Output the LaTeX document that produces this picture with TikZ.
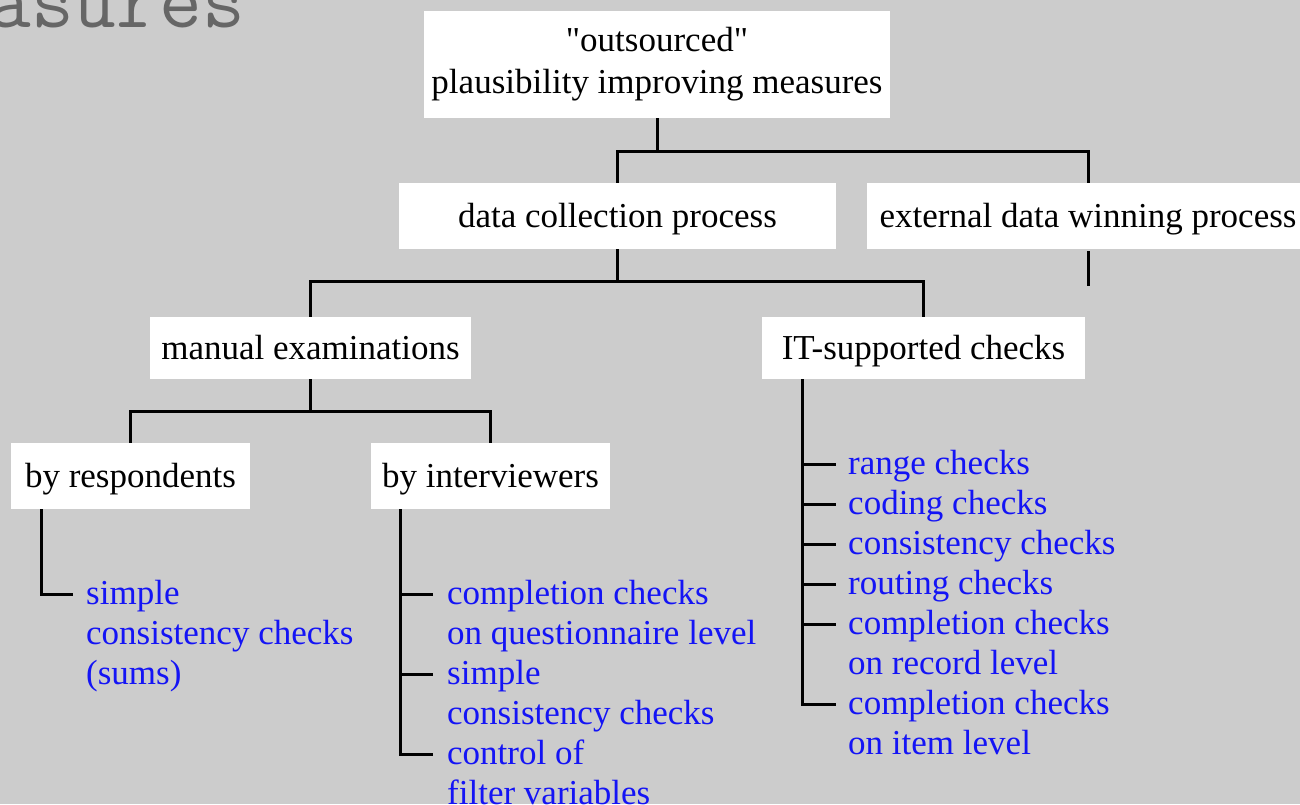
\documentclass[tikz,border=0pt]{standalone}
\usepackage{fontspec}
\setmainfont{Liberation Serif}[Ligatures=TeXOff]
\usetikzlibrary{calc}
\definecolor{bggray}{RGB}{204,204,204}
\definecolor{titlegray}{RGB}{102,102,102}
\definecolor{itemblue}{RGB}{20,20,245}
\newcommand\boxfont{\fontsize{35}{42}\selectfont}
\newcommand\itemfont{\fontsize{35}{40}\selectfont}
\tikzset{
  box/.style={fill=white, inner sep=0pt, text height=22pt, text depth=0pt, font=\boxfont},
  item/.style={anchor=north west, inner sep=0pt, align=left, text=itemblue, font=\itemfont},
  conn/.style={line width=3pt, black},
}
\begin{document}
\begin{tikzpicture}[x=1pt,y=-1pt]
\fill[bggray] (0,0) rectangle (1300,804);
\useasboundingbox (0,0) rectangle (1300,804);

\node (title) [anchor=base east, inner sep=0pt, text=titlegray, font={\ttfamily\fontsize{83}{90}\selectfont}] at (245,27) {easures};

% boxes
\node (top) [box, minimum width=466pt, minimum height=107pt] at (657,64.5) {};
\node (toptext) [inner sep=0pt, align=center, font=\boxfont] at (657,64) {"outsourced"\\plausibility improving measures};
\node (dc) [box, minimum width=437pt, minimum height=66pt] at (617.5,216) {data collection process};
\node (ext) [box, minimum width=442pt, minimum height=66pt] at (1088,216) {external data winning process};
\node (man) [box, minimum width=321pt, minimum height=62pt] at (310.5,348) {manual examinations};
\node (it) [box, minimum width=323pt, minimum height=62pt] at (923.5,348) {IT-supported checks};
\node (br) [box, minimum width=239pt, minimum height=66pt] at (130.5,476) {by respondents};
\node (bi) [box, minimum width=239pt, minimum height=66pt] at (490.5,476) {by interviewers};

% tree connectors
\coordinate (j1) at (657,151);
\coordinate (j2) at (617.5,281);
\coordinate (j3) at (310.5,411);
\coordinate (extend) at (1088,286);
\draw[conn] (top.south) -- (j1);
\draw[conn] (dc.north) |- (j1) -| (ext.north);
\draw[conn] ([yshift=-2pt]ext.south) -- (extend);
\draw[conn] (dc.south) -- (j2);
\draw[conn] (man.north) |- (j2) -| (it.north);
\draw[conn] (man.south) -- (j3);
\draw[conn] (br.north) |- (j3) -| (bi.north);

% by respondents list
\node (r1) [item] at (86,580) {simple\\consistency checks\\(sums)};
\coordinate (brx) at (41,0);
\coordinate (r1t) at ($(r1.north west)+(-13,14)$);
\draw[conn] (br.south -| brx) |- (r1t);

% by interviewers list
\node (i1) [item] at (447,580) {completion checks\\on questionnaire level};
\node (i2) [item] at (447,660) {simple\\consistency checks};
\node (i3) [item] at (447,740) {control of\\filter variables};
\coordinate (bix) at (400,0);
\coordinate (i1t) at ($(i1.north west)+(-14,14)$);
\coordinate (i2t) at ($(i2.north west)+(-14,14)$);
\coordinate (i3t) at ($(i3.north west)+(-14,14)$);
\draw[conn] (bi.south -| bix) |- (i3t);
\draw[conn] (i1t -| bix) -- (i1t);
\draw[conn] (i2t -| bix) -- (i2t);

% IT-supported list
\node (c1) [item] at (848,450) {range checks};
\node (c2) [item] at (848,490) {coding checks};
\node (c3) [item] at (848,530) {consistency checks};
\node (c4) [item] at (848,570) {routing checks};
\node (c5) [item] at (848,610) {completion checks\\on record level};
\node (c6) [item] at (848,690) {completion checks\\on item level};
\coordinate (itx) at (802,0);
\foreach \n in {c1,c2,c3,c4,c5,c6} {
  \coordinate (\n t) at ($(\n.north west)+(-12,14)$);
}
\draw[conn] (it.south -| itx) |- (c6t);
\foreach \n in {c1,c2,c3,c4,c5} {
  \draw[conn] (\n t -| itx) -- (\n t);
}
\end{tikzpicture}
\end{document}
